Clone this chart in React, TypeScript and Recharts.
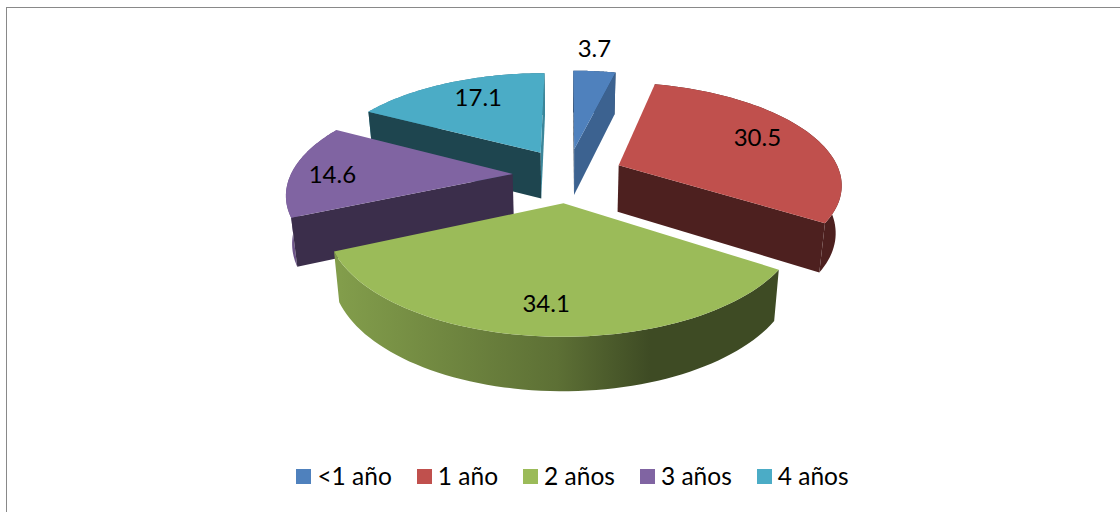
import React from 'react';
import { PieChart, Pie, Legend } from 'recharts';

const categories = ['<1 año', '1 año', '2 años', '3 años', '4 años'];
const shares = [3.7, 30.5, 34.1, 14.6, 17.1];
const colors = ['#4f81bd', '#c0504d', '#9bbb59', '#8064a2', '#4bacc6'];
const paintOrder = ['<1 año', '4 años', '3 años', '1 año', '2 años'];
// label placement on the disc: radius factor, angle shift in degrees
const labelRadius = [1.37, 0.75, 0.78, 0.815, 0.75];
const labelShift = [-1.5, -3, 0, -1.5, 4];

const rows = categories.map((name, i) => ({ name, value: shares[i], fill: colors[i] }));

const FONT = 'Lato, Carlito, sans-serif';
const CX = 568;
const CY = 175;
const RX = 222;
const RY = 100;
const PERSPECTIVE = 0.17;
const EXPLODE_X = 0.25;
const EXPLODE_Y = 0.27;
const DEPTH = 47;

const rad = (deg: number) => (deg * Math.PI) / 180;

// point on the tilted disc: theta runs clockwise from 12 o'clock, r in radii, h 0 = top face, 1 = bottom face
function project(midTheta: number, theta: number, r: number, h: number): [number, number] {
  const X = EXPLODE_X * Math.sin(rad(midTheta)) + r * Math.sin(rad(theta));
  const d = -EXPLODE_Y * Math.cos(rad(midTheta)) - r * Math.cos(rad(theta));
  const s = 1 / (1 - PERSPECTIVE * d);
  return [CX + RX * X * s * (1 - 0.022 * h), CY + RY * d * s + h * DEPTH * Math.pow(s, 0.6)];
}

const shade = (hex: string, k: number) => {
  const n = parseInt(hex.slice(1), 16);
  const c = [(n >> 16) & 255, (n >> 8) & 255, n & 255].map((v) => Math.round(v * k));
  return `rgb(${c[0]},${c[1]},${c[2]})`;
};

const toPath = (pts: [number, number][]) =>
  'M' + pts.map((p) => `${p[0].toFixed(2)},${p[1].toFixed(2)}`).join('L') + 'Z';

const wallShade = (normal: number) => {
  const s = Math.max(0, Math.sin(rad(normal)));
  return 0.4 + 0.38 * s * s;
};

// a radial wall shows only when the top face lies above its edge on screen
function wallVisible(apex: [number, number], rim: [number, number], inside: [number, number]) {
  const ex = rim[0] - apex[0];
  const ey = rim[1] - apex[1];
  const downSide = ex * 1;
  const insideSide = ex * (inside[1] - apex[1]) - ey * (inside[0] - apex[0]);
  return downSide * insideSide < 0;
}

function sliceShape(only: string) {
  return (props: any) => {
    if (props.name !== only) return <g />;
    const t0 = 90 - props.startAngle;
    const t1 = 90 - props.endAngle;
    const mid = (t0 + t1) / 2;
    const fill = props.fill as string;
    const steps = 64;
    const arcAngles = Array.from({ length: steps + 1 }, (_, i) => t0 + ((t1 - t0) * i) / steps);
    const arcTop = arcAngles.map((t) => project(mid, t, 1, 0));
    const arcBottom = arcAngles.map((t) => project(mid, t, 1, 1));
    const apexTop = project(mid, 0, 0, 0);
    const apexBottom = project(mid, 0, 0, 1);
    const midRim = project(mid, mid, 1, 0);
    const gradId = `rim-${colors.indexOf(fill)}`;
    return (
      <g>
        <defs>
          <linearGradient id={gradId} gradientUnits="userSpaceOnUse" x1={340} x2={650} y1={0} y2={0}>
            <stop offset="0" stopColor={shade(fill, 0.84)} />
            <stop offset="0.7" stopColor={shade(fill, 0.6)} />
            <stop offset="1" stopColor={shade(fill, 0.4)} />
          </linearGradient>
        </defs>
        <path d={toPath([...arcTop, ...[...arcBottom].reverse()])} fill={`url(#${gradId})`} />
        {wallVisible(apexTop, arcTop[0], midRim) && (
          <path
            d={toPath([apexTop, arcTop[0], arcBottom[0], apexBottom])}
            fill={shade(fill, wallShade(t0 - 90))}
          />
        )}
        {wallVisible(apexTop, arcTop[steps], midRim) && (
          <path
            d={toPath([apexTop, arcTop[steps], arcBottom[steps], apexBottom])}
            fill={shade(fill, wallShade(t1 + 90))}
          />
        )}
        <path d={toPath([apexTop, ...arcTop])} fill={fill} />
      </g>
    );
  };
}

function sliceLabel(props: any) {
  const mid = 90 - props.midAngle;
  const i = categories.indexOf(props.name);
  const [x, y] = project(mid, mid + labelShift[i], labelRadius[i], 0);
  return (
    <text
      x={x}
      y={y}
      textAnchor="middle"
      dominantBaseline="central"
      fill="#000"
      fontFamily={FONT}
      fontSize={24}
    >
      {props.value}
    </text>
  );
}

function legendContent() {
  return (
    <div
      style={{
        display: 'flex',
        justifyContent: 'center',
        fontFamily: FONT,
        fontSize: 24.5,
        lineHeight: '26px',
        color: '#000',
      }}
    >
      {categories.map((name, i) => (
        <div key={name} style={{ display: 'flex', alignItems: 'center', marginRight: i < 4 ? 25 : 0 }}>
          <span
            style={{ width: 15, height: 15, background: colors[i], display: 'inline-block', marginRight: 6 }}
          />
          <span>{name}</span>
        </div>
      ))}
    </div>
  );
}

export default function App() {
  return (
    <div style={{ position: 'absolute', left: 0, top: 0, width: 1120, height: 512, background: '#fff' }}>
      <div style={{ position: 'absolute', left: 6, top: 7, width: 1114, height: 505, borderTop: '1px solid #898989', borderLeft: '1px solid #898989', boxSizing: 'border-box' }} />
      <PieChart width={1120} height={512} margin={{ top: 0, right: 0, bottom: 0, left: 0 }}>
        {paintOrder.map((name, i) => (
          <Pie
            key={name}
            data={rows}
            dataKey="value"
            nameKey="name"
            cx={CX}
            cy={CY}
            outerRadius={RX}
            startAngle={90}
            endAngle={-270}
            stroke="none"
            legendType={i === 0 ? 'square' : 'none'}
            isAnimationActive={false}
            shape={sliceShape(name)}
            label={i === paintOrder.length - 1 ? sliceLabel : false}
            labelLine={false}
            rootTabIndex={-1}
          />
        ))}
        <Legend
          content={legendContent}
          wrapperStyle={{ position: 'absolute', left: 0, top: 463, width: 1145, height: 26 }}
        />
      </PieChart>
    </div>
  );
}
